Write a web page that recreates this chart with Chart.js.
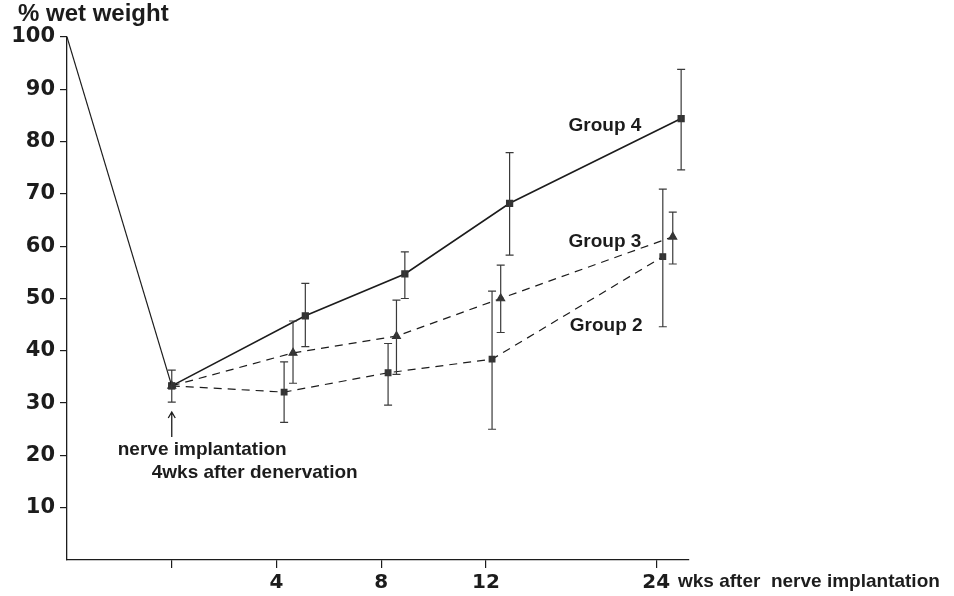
<!DOCTYPE html>
<html>
<head>
<meta charset="utf-8">
<script src="https://cdn.jsdelivr.net/npm/chart.js@4"></script>
<style>
  body { margin: 0; background: #fff; }
  canvas { display: block; }
</style>
</head>
<body>
<canvas id="chart" width="954" height="596"></canvas>
<script>
// x is in plot units: 0 = nerve implantation, -4 = denervation, 24 wks sits at 18.5 (broken axis)
const xTickPos = [0, 4, 8, 12, 18.5];
const xTickLabels = ['', '4', '8', '12', '24'];
const yTicks = [10, 20, 30, 40, 50, 60, 70, 80, 90, 100];

const denervX = [-4, 0];
const denervY = [100, 33.3];

const g4X = [0, 5.1, 8.9, 12.9, 19.45];
const g4Y = [33.3, 46.7, 54.7, 68.2, 84.4];
const g4Lo = [30.2, 40.8, 50.0, 58.3, 74.6];
const g4Hi = [36.3, 52.9, 58.9, 77.9, 93.8];

const g3X = [0, 4.63, 8.58, 12.56, 19.13];
const g3Y = [33.3, 39.6, 42.8, 50.0, 61.8];
const g3Lo = [null, 33.8, 35.5, 43.5, 56.6];
const g3Hi = [null, 45.7, 49.7, 56.4, 66.5];

const g2X = [0, 4.29, 8.26, 12.23, 18.75];
const g2Y = [33.3, 32.1, 35.8, 38.4, 58.0];
const g2Lo = [null, 26.3, 29.6, 25.0, 44.6];
const g2Hi = [null, 37.9, 41.4, 51.4, 70.9];

const ink = '#1c1c1c';
const font = '"Liberation Sans", Arial, sans-serif';
const numFont = '"DejaVu Sans", sans-serif';

function pts(xs, ys) {
  return xs.map((x, i) => ({ x: x, y: ys[i] }));
}

// error bars with small caps
const errorBars = {
  id: 'errorBars',
  afterDatasetsDraw(chart) {
    const ctx = chart.ctx;
    const y = chart.scales.y;
    chart.data.datasets.forEach((ds, di) => {
      if (!ds.lo) return;
      const meta = chart.getDatasetMeta(di);
      ctx.save();
      ctx.strokeStyle = '#3a3a3a';
      ctx.lineWidth = 1.2;
      meta.data.forEach((pt, i) => {
        if (ds.lo[i] == null) return;
        const yl = y.getPixelForValue(ds.lo[i]);
        const yh = y.getPixelForValue(ds.hi[i]);
        ctx.beginPath();
        ctx.moveTo(pt.x, yl); ctx.lineTo(pt.x, yh);
        ctx.moveTo(pt.x - 4, yl); ctx.lineTo(pt.x + 4, yl);
        ctx.moveTo(pt.x - 4, yh); ctx.lineTo(pt.x + 4, yh);
        ctx.stroke();
      });
      ctx.restore();
    });
  }
};

// titles and notes
const notes = {
  id: 'notes',
  afterDraw(chart) {
    const ctx = chart.ctx;
    const xs = chart.scales.x, ys = chart.scales.y;
    ctx.save();
    ctx.fillStyle = ink;
    ctx.textBaseline = 'middle';
    ctx.textAlign = 'left';

    ctx.font = 'bold 24px ' + font;
    ctx.fillText('% wet weight', 18, 14);

    ctx.font = 'bold 19px ' + font;
    ctx.fillText('wks after  nerve implantation', 678, 582);

    ctx.fillText('Group 4', xs.getPixelForValue(15.15), ys.getPixelForValue(83));
    ctx.fillText('Group 3', xs.getPixelForValue(15.15), ys.getPixelForValue(60.8));
    ctx.fillText('Group 2', xs.getPixelForValue(15.2), ys.getPixelForValue(44.8));

    const ax = xs.getPixelForValue(0);
    ctx.fillText('nerve implantation', ax - 54, 450);
    ctx.fillText('4wks after denervation', ax - 20, 473);

    // arrow under the implantation point
    ctx.strokeStyle = ink;
    ctx.lineWidth = 1.3;
    ctx.beginPath();
    ctx.moveTo(ax, 437); ctx.lineTo(ax, 412);
    ctx.moveTo(ax - 3.5, 418); ctx.lineTo(ax, 412); ctx.lineTo(ax + 3.5, 418);
    ctx.stroke();
    ctx.restore();
  }
};

new Chart(document.getElementById('chart'), {
  type: 'scatter',
  data: {
    datasets: [
      {
        label: 'denervation',
        data: pts(denervX, denervY),
        showLine: true,
        borderColor: ink,
        borderWidth: 1.2,
        pointRadius: 0
      },
      {
        label: 'Group 2',
        data: pts(g2X, g2Y),
        lo: g2Lo, hi: g2Hi,
        showLine: true,
        borderColor: ink,
        borderWidth: 1.2,
        borderDash: [8, 6],
        pointStyle: 'rect',
        pointRadius: 4,
        pointBackgroundColor: '#333',
        pointBorderColor: '#333'
      },
      {
        label: 'Group 3',
        data: pts(g3X, g3Y),
        lo: g3Lo, hi: g3Hi,
        showLine: true,
        borderColor: ink,
        borderWidth: 1.2,
        borderDash: [8, 6],
        pointStyle: 'triangle',
        pointRadius: 4.5,
        pointBackgroundColor: '#333',
        pointBorderColor: '#333'
      },
      {
        label: 'Group 4',
        data: pts(g4X, g4Y),
        lo: g4Lo, hi: g4Hi,
        showLine: true,
        borderColor: ink,
        borderWidth: 1.6,
        pointStyle: 'rect',
        pointRadius: 4,
        pointBackgroundColor: '#333',
        pointBorderColor: '#333'
      }
    ]
  },
  options: {
    responsive: false,
    animation: false,
    devicePixelRatio: 1,
    layout: { padding: { left: 0, top: 37, right: 265, bottom: 0 } },
    plugins: {
      legend: { display: false },
      tooltip: { enabled: false }
    },
    elements: { line: { tension: 0 } },
    scales: {
      x: {
        type: 'linear',
        min: -4,
        max: 19.75,
        afterFit: s => { s.height = 36; },
        afterBuildTicks: s => { s.ticks = xTickPos.map(v => ({ value: v })); },
        ticks: {
          autoSkip: false,
          maxRotation: 0,
          padding: 3,
          color: ink,
          font: { family: numFont, size: 20, weight: 'bold' },
          callback: v => {
            const i = xTickPos.indexOf(v);
            return i >= 0 ? xTickLabels[i] : '';
          }
        },
        grid: {
          drawOnChartArea: false,
          drawTicks: true,
          tickLength: 8,
          color: ink,
          lineWidth: 1.2
        },
        border: { display: true, color: ink, width: 1.3 }
      },
      y: {
        min: 0,
        max: 100,
        afterFit: s => { s.width = 67; },
        afterBuildTicks: s => { s.ticks = [0].concat(yTicks).map(v => ({ value: v })); },
        ticks: {
          padding: 5,
          color: ink,
          font: { family: numFont, size: 21, weight: 'bold' },
          callback: v => (v === 0 ? '' : String(v))
        },
        grid: {
          drawOnChartArea: false,
          drawTicks: true,
          tickLength: 7,
          color: c => (c.tick && c.tick.value === 0 ? 'rgba(0,0,0,0)' : ink),
          lineWidth: 1.2
        },
        border: { display: true, color: ink, width: 1.3 }
      }
    }
  },
  plugins: [errorBars, notes]
});
</script>
</body>
</html>
